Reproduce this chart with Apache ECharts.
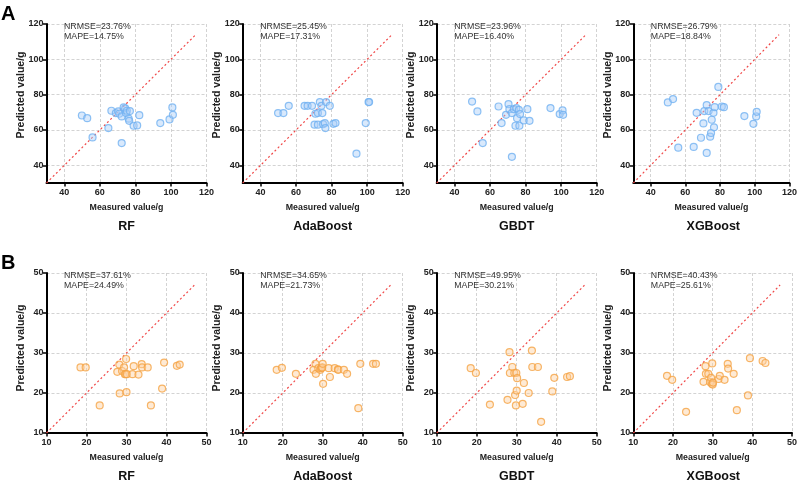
<!DOCTYPE html>
<html>
<head>
<meta charset="utf-8">
<script src="https://cdn.jsdelivr.net/npm/echarts@6/dist/echarts.min.js"></script>
<style>
  html, body { margin: 0; background: #fff; }
  #main { width: 800px; height: 482px; }
</style>
</head>
<body>
<div id="main"></div>
<script>
var chartDom = document.getElementById('main');
var myChart = echarts.init(chartDom);
var option;

var models = ['RF', 'AdaBoost', 'GBDT', 'XGBoost'];

// row A
var measuredA = [49.9, 52.9, 55.9, 64.8, 66.5, 69.0, 70.4, 70.9, 72.3, 72.3, 73.4, 74.3,
  74.8, 75.2, 76.2, 76.5, 76.9, 79.0, 81.0, 82.2, 94.0, 99.2, 100.8, 101.1];
var rfA = [68.2, 66.7, 55.8, 61.1, 70.9, 69.6, 70.5, 69.2, 67.7, 52.6, 72.8, 72.2,
  69.6, 70.9, 66.4, 65.2, 70.7, 62.4, 62.6, 68.4, 63.9, 66.0, 72.8, 68.6];
var adaA = [69.6, 69.6, 73.7, 73.7, 73.7, 73.7, 63.0, 69.2, 63.0, 69.6, 75.8, 73.7,
  69.6, 63.3, 63.9, 61.1, 75.8, 73.7, 63.5, 63.9, 46.6, 63.9, 75.8, 75.8];
var gbdtA = [76.1, 70.5, 52.6, 73.3, 63.9, 68.6, 74.6, 71.8, 44.8, 69.6, 71.8, 62.4,
  72.4, 66.7, 71.4, 62.4, 69.0, 65.4, 71.8, 65.2, 72.4, 69.0, 71.1, 68.6];
var xgbA = [75.6, 77.5, 50.0, 50.4, 69.7, 55.6, 63.7, 70.7, 47.0, 74.1, 70.7, 56.2,
  58.3, 65.8, 69.7, 61.5, 72.9, 84.4, 73.3, 72.9, 67.9, 63.5, 67.7, 70.3];
var nrmseA = ['23.76%', '25.45%', '23.96%', '26.79%'];
var mapeA = ['14.75%', '17.31%', '16.40%', '18.84%'];
var ticksA = [40, 60, 80, 100, 120];

// row B
var measuredB = [18.5, 19.8, 23.3, 27.7, 28.2, 28.3, 28.9, 29.4, 29.6, 29.8, 29.9, 30.0,
  30.1, 31.5, 31.8, 33.0, 33.8, 33.9, 35.3, 36.1, 38.9, 39.4, 42.6, 43.3];
var rfB = [26.4, 26.4, 16.9, 25.3, 27.1, 19.9, 25.5, 26.4, 24.7, 24.7, 28.5, 20.2,
  24.7, 24.7, 26.7, 24.6, 27.2, 26.4, 26.4, 16.9, 21.1, 27.6, 26.8, 27.1];
var adaB = [25.8, 26.3, 24.8, 25.8, 27.3, 24.8, 26.2, 25.8, 26.2, 26.3, 26.4, 27.3,
  22.3, 26.2, 24.0, 26.2, 25.9, 25.8, 25.8, 24.8, 16.2, 27.3, 27.3, 27.3];
var gbdtB = [26.2, 25.0, 17.1, 18.3, 30.2, 25.0, 26.5, 25.0, 19.5, 16.9, 25.0, 20.6,
  23.7, 17.3, 22.5, 20.0, 30.6, 26.5, 26.5, 12.8, 20.4, 23.8, 24.0, 24.2];
var xgbB = [24.3, 23.3, 15.3, 22.8, 26.7, 24.8, 24.8, 22.7, 23.8, 22.3, 27.4, 22.1,
  22.6, 23.5, 24.3, 23.3, 27.3, 26.1, 24.8, 15.7, 19.4, 28.7, 28.0, 27.5];
var nrmseB = ['37.61%', '34.65%', '49.95%', '40.43%'];
var mapeB = ['24.49%', '21.73%', '30.21%', '25.61%'];

var predA = [rfA, adaA, gbdtA, xgbA];
var predB = [rfB, adaB, gbdtB, xgbB];

var FONT = 'Arial, "Liberation Sans", sans-serif';
var lefts = [46.5, 242.7, 436.7, 633.3];
var plotW = 160;
var rows = [
  { top: 24, height: 159, min: 30, max: 120, ticks: ticksA, lineEnd: 114, nameShift: 17,
    measured: measuredA, pred: predA, nrmse: nrmseA, mape: mapeA,
    fill: 'rgba(168,206,248,0.55)', stroke: '#72b1f1' },
  { top: 273, height: 160, min: 10, max: 50, interval: 10, lineEnd: 47, nameShift: 10,
    measured: measuredB, pred: predB, nrmse: nrmseB, mape: mapeB,
    fill: 'rgba(252,208,160,0.55)', stroke: '#f5a445' }
];

function pairs(xs, ys) {
  return xs.map(function (x, i) { return [x, ys[i]]; });
}

var grid = [], xAxis = [], yAxis = [], series = [];
var title = [
  { text: 'A', left: 1, top: 4, padding: 0, textStyle: { fontFamily: FONT, fontSize: 20, fontWeight: 'bold', color: '#000' } },
  { text: 'B', left: 1, top: 253, padding: 0, textStyle: { fontFamily: FONT, fontSize: 20, fontWeight: 'bold', color: '#000' } }
];

rows.forEach(function (row, r) {
  models.forEach(function (name, c) {
    var idx = r * 4 + c;
    grid.push({ left: lefts[c], top: row.top, width: plotW, height: row.height });

    var axisCommon = {
      type: 'value',
      gridIndex: idx,
      min: row.min,
      max: row.max,
      nameLocation: 'middle',
      nameMoveOverlap: false,
      axisLine: { show: true, lineStyle: { color: '#000', width: 2 } },
      axisTick: { show: true, length: 3.5, lineStyle: { color: '#000', width: 1.5 } },
      axisLabel: { fontFamily: FONT, fontSize: 9, fontWeight: 'bold', color: '#222', margin: 3 },
      splitLine: { show: true, lineStyle: { color: '#c8c8c8', type: [3, 2], width: 0.8 } }
    };
    if (row.ticks) {
      axisCommon.axisTick.customValues = row.ticks;
      axisCommon.axisLabel.customValues = row.ticks;
    } else {
      axisCommon.interval = row.interval;
    }
    var xa = JSON.parse(JSON.stringify(axisCommon));
    xa.name = 'Measured value/g';
    xa.nameGap = 20;
    xa.axisLabel.margin = 5;
    xa.nameTextStyle = { fontFamily: FONT, fontSize: 8.8, fontWeight: 'bold', color: '#222' };
    var ya = JSON.parse(JSON.stringify(axisCommon));
    ya.name = 'Predicted value/g';
    ya.nameGap = 20;
    ya.nameTextStyle = { fontFamily: FONT, fontSize: 10.5, fontWeight: 'bold', color: '#222',
      padding: [0, 0, 0, row.nameShift] };
    xAxis.push(xa);
    yAxis.push(ya);

    series.push({
      type: 'line',
      xAxisIndex: idx,
      yAxisIndex: idx,
      data: [[row.min, row.min], [row.lineEnd, row.lineEnd]],
      symbol: 'none',
      silent: true,
      lineStyle: { color: '#f04848', width: 1.2, type: [2, 2.5] },
      z: 1
    });
    series.push({
      type: 'scatter',
      xAxisIndex: idx,
      yAxisIndex: idx,
      data: pairs(row.measured, row.pred[c]),
      symbolSize: 7,
      itemStyle: { color: row.fill, borderColor: row.stroke, borderWidth: 1.2 },
      z: 3
    });

    title.push({
      text: 'NRMSE=' + row.nrmse[c] + '\nMAPE=' + row.mape[c],
      left: lefts[c] + 17.5,
      top: row.top - 3,
      padding: 0,
      textStyle: { fontFamily: FONT, fontSize: 8.8, fontWeight: 'normal', color: '#333', lineHeight: 10.6 }
    });
    title.push({
      text: name,
      left: lefts[c] + plotW / 2,
      textAlign: 'center',
      top: row.top + row.height + 37,
      padding: 0,
      textStyle: { fontFamily: FONT, fontSize: 12.5, fontWeight: 'bold', color: '#111' }
    });
  });
});

option = {
  animation: false,
  title: title,
  grid: grid,
  xAxis: xAxis,
  yAxis: yAxis,
  series: series
};

option && myChart.setOption(option);
</script>
</body>
</html>
